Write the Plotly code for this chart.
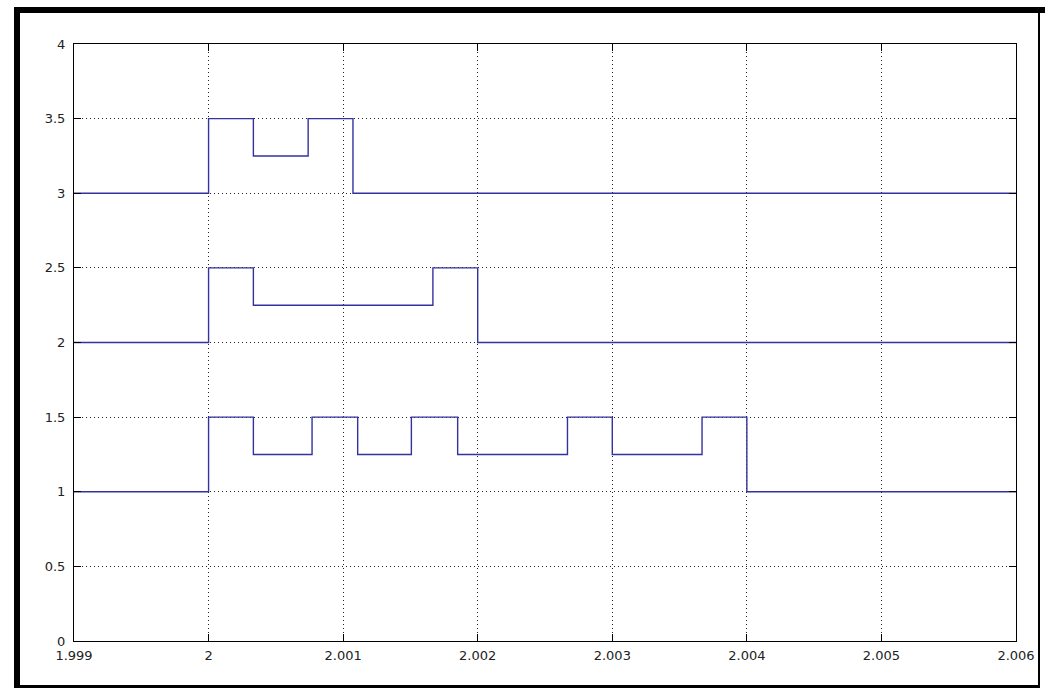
import plotly.graph_objects as go

# ---- data ----
t_sig1 = [1.999, 2.000, 2.000333, 2.000769, 2.001108, 2.001507, 2.001851,
          2.002667, 2.003, 2.003667, 2.004, 2.006]
v_sig1 = [1, 1.5, 1.25, 1.5, 1.25, 1.5, 1.25, 1.5, 1.25, 1.5, 1, 1]

t_sig2 = [1.999, 2.000, 2.000333, 2.001667, 2.002, 2.006]
v_sig2 = [2, 2.5, 2.25, 2.5, 2, 2]

t_sig3 = [1.999, 2.000, 2.000333, 2.00074, 2.001073, 2.006]
v_sig3 = [3, 3.5, 3.25, 3.5, 3, 3]

x_ticks = [1.999, 2.0, 2.001, 2.002, 2.003, 2.004, 2.005, 2.006]
x_tick_text = ["1.999", "2", "2.001", "2.002", "2.003", "2.004", "2.005", "2.006"]
y_ticks = [0, 0.5, 1, 1.5, 2, 2.5, 3, 3.5, 4]
y_tick_text = ["0", "0.5", "1", "1.5", "2", "2.5", "3", "3.5", "4"]

LINE = "#3333a0"

fig = go.Figure()
for t, v in [(t_sig1, v_sig1), (t_sig2, v_sig2), (t_sig3, v_sig3)]:
    fig.add_trace(go.Scatter(x=t, y=v, mode="lines", line_shape="hv",
                             line=dict(color=LINE, width=1.4),
                             showlegend=False, hoverinfo="skip"))

W, H = 1045, 688
L, R, T, B = 74, 1016, 44, 641
pw, ph = R - L, B - T


def px(x):
    return (x - L) / pw


def py(y):
    return (B - y) / ph


def rect(x0, y0, x1, y1):
    return dict(type="rect", xref="paper", yref="paper",
                x0=px(x0), x1=px(x1), y0=py(y1), y1=py(y0),
                fillcolor="black", line=dict(width=0), layer="above")


shapes = [
    rect(14, 7, 20, 688),
    rect(14, 7, 1045, 13),
    rect(1038, 7, 1040, 688),
    rect(14, 685, 1040, 688),
]

axis_common = dict(
    showgrid=True, gridcolor="#222222", griddash="1px,3px", gridwidth=1,
    zeroline=False, showline=True, linecolor="black", linewidth=1,
    mirror="ticks", ticks="inside", ticklen=7, tickcolor="black",
    tickfont=dict(family="DejaVu Sans, Verdana, sans-serif", size=13, color="#222222"),
)

fig.update_xaxes(range=[1.999, 2.006], tickmode="array", tickvals=x_ticks,
                 ticktext=x_tick_text, ticklabelstandoff=2, **axis_common)
fig.update_yaxes(range=[0, 4], tickmode="array", tickvals=y_ticks,
                 ticktext=y_tick_text, ticklabelstandoff=5, **axis_common)

fig.update_layout(
    width=W, height=H,
    margin=dict(l=L, r=W - R, t=T, b=H - B, autoexpand=False),
    paper_bgcolor="white", plot_bgcolor="white",
    shapes=shapes,
)

fig.write_html("out.html",
               config={"displayModeBar": False},
               post_script="document.body.style.margin='0px';document.body.style.overflow='hidden';")
